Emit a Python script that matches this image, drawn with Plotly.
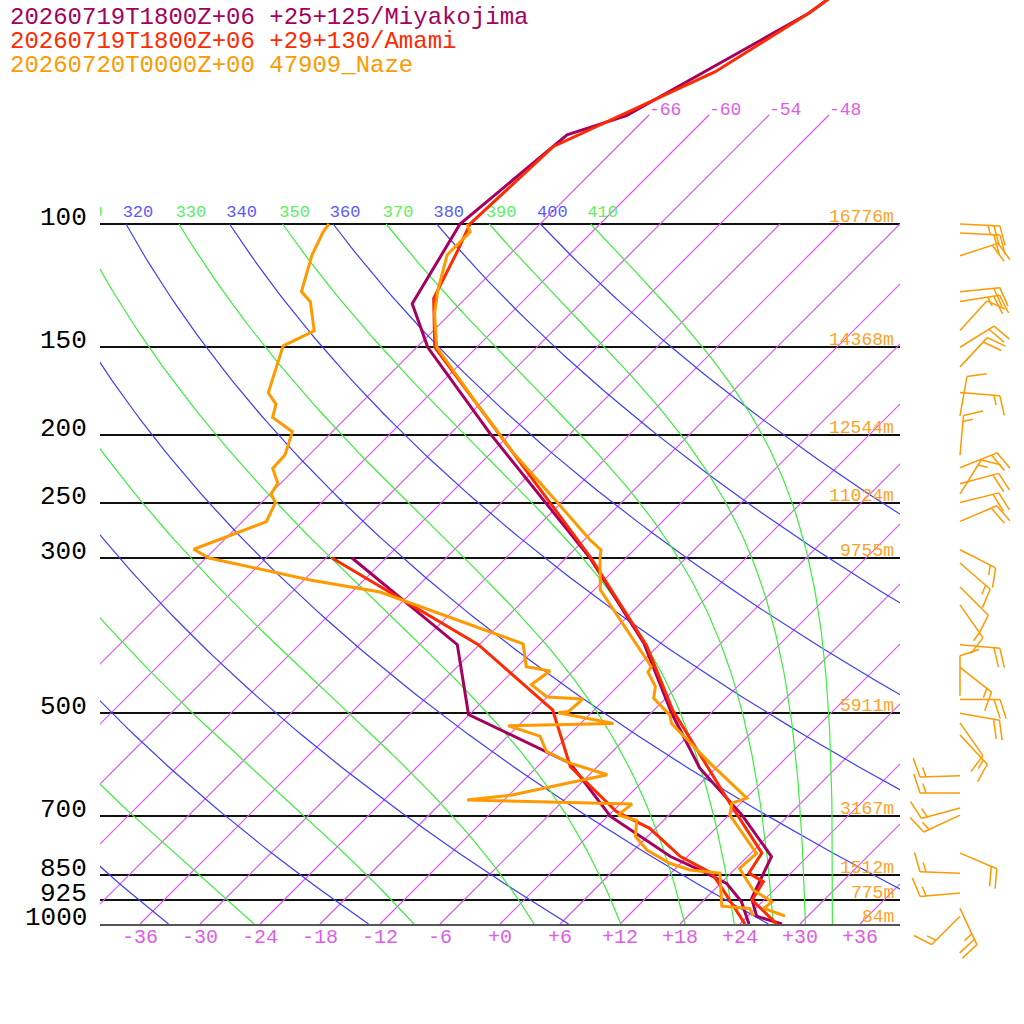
"""
Skew-T comparativo: Miyakojima / Amami (modelo) vs sondeo 47909 Naze.
"""

import numpy as np
import plotly.graph_objects as go

# ── Soundings: pressure (hPa) and temperature / dew point (degC) ─────────────
MIYA_T_P = [45, 50, 70, 74.6, 100, 130, 150, 199, 300, 397, 500, 599, 700, 801, 919, 975, 1000]
MIYA_T = [-59.0, -60.2, -68.2, -72.2, -74.0, -70.8, -64.9, -50.1, -27.6, -13.7, -3.9, 4.4, 13.4,
          20.4, 22.6, 24.9, 28.2]
MIYA_TD_P = [300, 399, 502, 567, 589, 702, 801, 842, 875, 929, 1000]
MIYA_TD = [-51.4, -32.2, -24.1, -12.6, -9.1, 0.3, 10.3, 15.1, 18.6, 21.9, 24.9]

AMAMI_T_P = [45, 50, 60.6, 77.5, 100, 108.9, 127.7, 150, 300, 400, 495, 672, 792, 846, 870, 924, 1000]
AMAMI_T = [-59.0, -60.2, -63.7, -72.4, -73.0, -71.6, -69.2, -64.2, -27.5, -13.2, -4.1, 10.9,
           19.1, 19.8, 22.1, 22.8, 27.7]
AMAMI_TD_P = [300, 378, 399, 495, 596, 691, 730, 801, 815, 846, 894, 929, 1000]
AMAMI_TD = [-53.4, -34.6, -30.1, -16.1, -8.7, 0.4, 5.4, 11.3, 12.8, 16.1, 18.9, 20.8, 24.5]

NAZE_T_P = [100, 102.6, 110.7, 124.3, 134.2, 150, 180.4, 212.6, 250, 282.7, 292.2, 300, 333,
            429, 436.6, 458, 476, 503, 517, 589, 661, 672, 699, 717, 793, 833, 894, 930, 950, 974]
NAZE_T = [-73.3, -72.2, -72.2, -69.6, -67.6, -64.0, -54.4, -45.7, -36.4, -29.4, -27.3, -26.6,
          -23.4, -10.6, -10.4, -8.2, -7.2, -3.9, -2.9, 4.9, 12.1, 11.1, 12.1, 13.4, 18.6, 18.4,
          21.9, 25.0, 24.8, 27.7]
NAZE_TD_P = [100, 102.6, 110.7, 124.9, 129.1, 142.1, 149.3, 174.2, 180.8, 188.9, 198, 213.8,
             223.4, 234.6, 243, 250, 266.2, 291.5, 300, 322.6, 335.5, 398, 429, 435, 455, 474,
             477, 497, 499, 517, 521, 539, 567, 589, 612, 654, 665, 674, 699, 711, 750, 784,
             819, 837, 846, 943, 950, 974]
NAZE_TD = [-87.1, -86.9, -85.7, -83.1, -81.2, -77.9, -79.5, -76.3, -74.4, -73.4, -70.0, -68.4,
           -68.3, -66.3, -65.9, -64.6, -63.6, -68.1, -65.7, -53.4, -45.2, -25.7, -23.1, -20.3,
           -20.8, -18.0, -14.2, -14.4, -15.3, -8.7, -19.0, -14.8, -12.6, -9.1, -4.2, -11.7,
           -15.7, 1.2, 0.9, 3.3, 4.8, 7.3, 10.9, 13.6, 16.9, 20.4, 23.4, 24.5]

# Naze winds: pressure (hPa), direction (deg, from), speed (kt)
WIND_P = [100, 103, 111, 125, 129, 142, 150, 160, 174, 188, 214, 223, 235, 243, 250, 266, 292,
          305, 330, 350, 399, 430, 472, 478, 500, 516, 537, 614, 650, 683, 699, 792, 846, 903,
          950, 975]
WIND_DIR = [93, 93, 72, 84, 81, 42, 58, 43, 95, 10, 5, 68, 75, 32, 76, 67, 117, 131, 135, 145,
            95, 128, 0, 90, 100, 145, 137, 268, 270, 255, 245, 113, 272, 265, 155, 225]
WIND_KT = [25, 20, 20, 20, 25, 10, 20, 20, 15, 10, 15, 20, 20, 15, 20, 20, 15, 15, 10, 15, 20,
           15, 10, 20, 20, 10, 15, 15, 15, 15, 15, 20, 15, 15, 25, 15]

LEVELS = [100, 150, 200, 250, 300, 500, 700, 850, 925, 1000]
HEIGHTS = ['16776m', '14368m', '12544m', '11024m', '9755m', '5911m', '3167m', '1512m', '775m', '84m']
THETA_DRY = list(range(220, 401, 20))
THETA_MOIST = list(range(230, 411, 20))
ISOTHERMS = list(range(-66, 37, 6))
ISO_LABELLED = [-66, -60, -54, -48]
TEMP_TICKS = list(range(-36, 37, 6))

LEGEND = [
    ('20260719T1800Z+06 +25+125/Miyakojima', '#a5005f'),
    ('20260719T1800Z+06 +29+130/Amami', '#ff2a00'),
    ('20260720T0000Z+00 47909_Naze', '#ff9900'),
]

# ── Style ────────────────────────────────────────────────────────────────────
FONT = 'Liberation Mono'
C_MIYA, C_AMAMI, C_NAZE = '#a5005f', '#ff2a00', '#ff9900'
C_ISO, C_DRY, C_MOIST = '#e252fa', '#3c3cff', '#3cee3c'
SKEW = 70.0                  # degC shift per pressure decade (45 deg lines)
PX_DECADE = 700.0            # pixels per pressure decade
Y_TOP = 3 - 924 / PX_DECADE   # log10(p) at the top edge
Y_BOT = 3 + 100 / PX_DECADE   # log10(p) at the bottom of the page


def skew_x(t, p):
    return np.asarray(t, float) + SKEW * np.log10(1000.0 / np.asarray(p, float))


def px_x(px):
    return (px - 100) / 924


def px_y(py):
    return (1024 - py) / 1024


def p_at(py):
    return 1000 * 10 ** (-(924 - py) / PX_DECADE)


def theta_e_sat(tc, p):
    tk = tc + 273.15
    es = 6.112 * np.exp(17.67 * tc / (tc + 243.5))
    r = 0.622 * es / (p - es)
    rg = r * 1000
    return (tk * (1000 / p) ** (0.2854 * (1 - 0.28 * r))
            * np.exp((3.376 / tk - 0.00254) * rg * (1 + 0.81e-3 * rg)))


def moist_t(the, p):
    lo = np.full_like(p, -160.0)
    hi = np.full_like(p, 40.0)
    for _ in range(60):
        mid = 0.5 * (lo + hi)
        above = theta_e_sat(mid, p) > the
        hi = np.where(above, mid, hi)
        lo = np.where(above, lo, mid)
    return 0.5 * (lo + hi)


def thin_line(x, y, color, width=1.2):
    fig.add_trace(go.Scatter(x=[float(v) for v in x], y=[float(v) for v in y], mode='lines',
                             line=dict(color=color, width=width),
                             hoverinfo='skip', showlegend=False))


fig = go.Figure()
pgrid = np.geomspace(1000, 100, 90)

# ── Isotherms ────────────────────────────────────────────────────────────────
for t in ISOTHERMS:
    ptop = p_at(115) if t in ISO_LABELLED else 100.0
    pp = np.geomspace(1000.0, ptop, 12)
    thin_line(skew_x(np.full_like(pp, t), pp), pp, C_ISO)

# ── Dry adiabats ─────────────────────────────────────────────────────────────
for th in THETA_DRY:
    t = th * (pgrid / 1000) ** 0.2857 - 273.15
    thin_line(skew_x(t, pgrid), pgrid, C_DRY)

# ── Moist adiabats ───────────────────────────────────────────────────────────
moist_top = {}
for th in THETA_MOIST:
    t = moist_t(th, pgrid)
    thin_line(skew_x(t, pgrid), pgrid, C_MOIST)
    moist_top[th] = float(skew_x(t[-1], 100))

# ── Adiabat / isotherm labels (only those reaching the diagram) ──────────────
p_lab = p_at(213)
dry_lab = [(th, float(skew_x(th * 0.1 ** 0.2857 - 273.15, 100)) + 1.2) for th in THETA_DRY]
dry_lab = [(th, x) for th, x in dry_lab if x > -42]
moist_lab = [(th, moist_top[th] + 1.2) for th in THETA_MOIST if moist_top[th] > -44]
for labs, col in [(dry_lab, '#5a5aff'), (moist_lab, '#5cf05c')]:
    fig.add_trace(go.Scatter(
        x=[x for _, x in labs], y=[p_lab] * len(labs), mode='text',
        text=[str(th) for th, _ in labs], textposition='middle center',
        textfont=dict(family=FONT, size=17, color=col),
        cliponaxis=True, hoverinfo='skip', showlegend=False))
fig.add_trace(go.Scatter(
    x=[float(skew_x(t, p_at(115))) for t in ISO_LABELLED], y=[p_at(110)] * len(ISO_LABELLED),
    mode='text', text=[str(t) for t in ISO_LABELLED], textposition='middle right',
    textfont=dict(family=FONT, size=18, color='#dc5ee6'),
    cliponaxis=True, hoverinfo='skip', showlegend=False))

# ── Profiles ─────────────────────────────────────────────────────────────────
for p, t, col in [
    (MIYA_TD_P, MIYA_TD, C_MIYA), (MIYA_T_P, MIYA_T, C_MIYA),
    (AMAMI_TD_P, AMAMI_TD, C_AMAMI), (AMAMI_T_P, AMAMI_T, C_AMAMI),
    (NAZE_TD_P, NAZE_TD, C_NAZE), (NAZE_T_P, NAZE_T, C_NAZE),
]:
    fig.add_trace(go.Scatter(x=skew_x(t, p), y=p, mode='lines', line=dict(color=col, width=3),
                             hoverinfo='skip', showlegend=False))

# ── Wind barbs (pixel x, log-p y) ────────────────────────────────────────────
bx, by = [], []
ang = np.radians(72)
for p, d, s in zip(WIND_P, WIND_DIR, WIND_KT):
    ux, uy = np.sin(np.radians(d)), -np.cos(np.radians(d))
    fx, fy = ux * np.cos(ang) - uy * np.sin(ang), ux * np.sin(ang) + uy * np.cos(ang)
    pts = [[(0, 0), (40 * ux, 40 * uy)]]
    pos = 40
    for _ in range(int(s // 10)):
        pts.append([(pos * ux, pos * uy), (pos * ux + 20 * fx, pos * uy + 20 * fy)])
        pos -= 6
    if s % 10 >= 5:
        pts.append([(pos * ux, pos * uy), (pos * ux + 10 * fx, pos * uy + 10 * fy)])
    for seg in pts:
        for dx, dy in seg:
            bx.append(960 + dx)
            by.append(p * 10 ** (dy / PX_DECADE))
        bx.append(None)
        by.append(None)
fig.add_trace(go.Scatter(x=bx, y=by, xaxis='x2', yaxis='y2', mode='lines',
                         line=dict(color=C_NAZE, width=1.5), hoverinfo='skip', showlegend=False))

# ── Annotations ──────────────────────────────────────────────────────────────
ann = []
for i, (txt, col) in enumerate(LEGEND):
    ann.append(dict(text=txt, x=px_x(8), y=px_y(17 + 24 * i), xref='paper', yref='paper',
                    xanchor='left', yanchor='middle', showarrow=False,
                    font=dict(family=FONT, size=24, color=col)))
for lev, h in zip(LEVELS, HEIGHTS):
    ann.append(dict(text=str(lev), x=px_x(89), y=np.log10(lev), xref='paper', yref='y',
                    xanchor='right', yanchor='middle', yshift=6, showarrow=False,
                    font=dict(family=FONT, size=26, color='black')))
    ann.append(dict(text=h, x=px_x(896), y=np.log10(lev), xref='paper', yref='y',
                    xanchor='right', yanchor='middle', yshift=7, showarrow=False,
                    font=dict(family=FONT, size=18, color='#ffa126')))

fig.update_layout(
    width=1024, height=1024,
    margin=dict(l=100, r=0, t=0, b=0),
    paper_bgcolor='white', plot_bgcolor='white',
    annotations=ann,
    xaxis=dict(domain=[0, 800 / 924], range=[-40, 40], showgrid=False, zeroline=False,
               showline=True, linecolor='#555555', linewidth=2,
               tickvals=TEMP_TICKS, ticktext=[f'{v:+d}' for v in TEMP_TICKS], ticks='',
               ticklabelstandoff=-7,
               tickfont=dict(family=FONT, size=20, color='#dc5ee6')),
    yaxis=dict(type='log', range=[3, Y_TOP], domain=[100 / 1024, 1], tickvals=LEVELS,
               showticklabels=False, showgrid=True, gridcolor='#111111', gridwidth=1.5,
               zeroline=False, ticks=''),
    xaxis2=dict(domain=[800 / 924, 1], range=[900, 1024], anchor='y2', visible=False),
    yaxis2=dict(type='log', range=[Y_BOT, Y_TOP], domain=[0, 1], anchor='x2', visible=False),
)

fig.write_html('out.html', config={'displayModeBar': False},
               post_script="document.body.style.margin='0';")
